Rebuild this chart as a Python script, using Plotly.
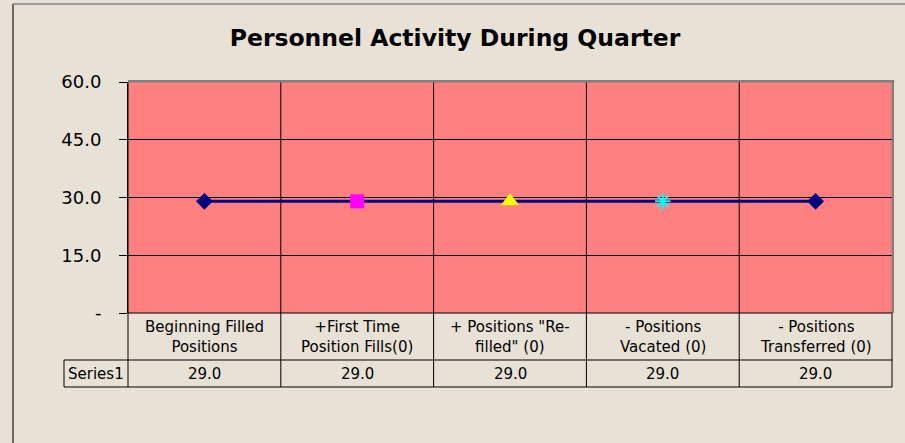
import plotly.graph_objects as go

categories = ["Beginning Filled Positions", "+First Time Position Fills(0)",
              "+ Positions \"Re-filled\" (0)", "- Positions Vacated (0)",
              "- Positions Transferred (0)"]
category_lines = [["Beginning Filled", "Positions"],
                  ["+First Time", "Position Fills(0)"],
                  ["+ Positions \"Re-", "filled\" (0)"],
                  ["- Positions", "Vacated (0)"],
                  ["- Positions", "Transferred (0)"]]
series_name = "Series1"
values = [29.0, 29.0, 29.0, 29.0, 29.0]
y_tickvals = [0, 15, 30, 45, 60]
y_ticktext = ["-", "15.0", "30.0", "45.0", "60.0"]
title_text = "Personnel Activity During Quarter"

marker_symbols = ["diamond", "square", "triangle-up", "asterisk-open", "diamond"]
marker_colors = ["#000080", "#FF00FF", "#FFFF00", "#00FFFF", "#000080"]
marker_sizes = [13, 14, 16, 13, 13]

W, H = 905, 443
L, R, T, B = 128, 13, 82, 130
PW, PH = W - L - R, H - T - B
FONT = "Tahoma, DejaVu Sans, sans-serif"


def px(X):
    return (X - L) / PW


def py(Y):
    return (H - B - Y) / PH


fig = go.Figure()
fig.add_trace(go.Scatter(
    x=list(range(len(categories))), y=values, mode="lines",
    line=dict(color="#000080", width=3), showlegend=False, hoverinfo="skip"))
for i, v in enumerate(values):
    sym = marker_symbols[i]
    fig.add_trace(go.Scatter(
        x=[i], y=[v], mode="markers", showlegend=False,
        marker=dict(symbol=sym, size=marker_sizes[i], color=marker_colors[i],
                    line=dict(color=marker_colors[i], width=2 if "open" in sym else 0))))

shapes = []
blk = dict(color="black", width=1)
n = len(categories)
for i in range(1, n):
    shapes.append(dict(type="line", xref="x", yref="paper", x0=i - 0.5, x1=i - 0.5,
                       y0=1, y1=py(387), line=blk))
shapes.append(dict(type="line", xref="paper", yref="paper", x0=0, x1=0,
                   y0=1, y1=py(387), line=blk))
shapes.append(dict(type="line", xref="paper", yref="paper", x0=1, x1=1,
                   y0=0, y1=py(387), line=blk))
shapes.append(dict(type="line", xref="paper", yref="paper", x0=1.001, x1=1.001,
                   y0=0, y1=1.004, line=dict(color="#808080", width=2.5)))
shapes.append(dict(type="line", xref="paper", yref="paper", x0=0, x1=1.003,
                   y0=1.003, y1=1.003, line=dict(color="#808080", width=2.5)))
shapes.append(dict(type="line", xref="paper", yref="paper", x0=0, x1=1,
                   y0=0, y1=0, line=blk))
for Y in (360, 387):
    shapes.append(dict(type="line", xref="paper", yref="paper", x0=px(64), x1=1,
                       y0=py(Y), y1=py(Y), line=blk))
shapes.append(dict(type="line", xref="paper", yref="paper", x0=px(64), x1=px(64),
                   y0=py(360), y1=py(387), line=blk))
shapes.append(dict(type="line", xref="paper", yref="paper", x0=px(13), x1=px(13),
                   y0=py(4), y1=py(460), line=dict(color="#404040", width=1.5)))
shapes.append(dict(type="line", xref="paper", yref="paper", x0=px(13), x1=px(920),
                   y0=py(4), y1=py(4), line=dict(color="#808080", width=1.5)))

TF = dict(family=FONT, size=15, color="black")
annotations = []
for i, lines in enumerate(category_lines):
    annotations.append(dict(x=i, xref="x", y=py(337), yref="paper",
                            text="<br>".join(lines), showarrow=False, font=TF,
                            xanchor="center", yanchor="middle"))
    annotations.append(dict(x=i, xref="x", y=py(374), yref="paper",
                            text=f"{values[i]:.1f}", showarrow=False, font=TF,
                            xanchor="center", yanchor="middle"))
annotations.append(dict(x=px(96), xref="paper", y=py(374), yref="paper",
                        text=series_name, showarrow=False, font=TF,
                        xanchor="center", yanchor="middle"))

fig.update_layout(
    width=W, height=H,
    margin=dict(l=L, r=R, t=T, b=B, pad=0),
    paper_bgcolor="#e8e1d5", plot_bgcolor="#FF8080",
    title=dict(text=f"<b>{title_text}</b>", x=455 / W, xanchor="center",
               y=1 - 38 / H, yanchor="middle",
               font=dict(family=FONT, size=23.5, color="black")),
    xaxis=dict(type="linear", range=[-0.5, n - 0.5], showgrid=False,
               showticklabels=False, zeroline=False, showline=False, ticks=""),
    yaxis=dict(range=[0, 60], tickvals=y_tickvals, ticktext=y_ticktext,
               showgrid=True, gridcolor="black", gridwidth=1, zeroline=False,
               showline=True, linecolor="black", linewidth=1,
               ticks="outside", ticklen=8, tickcolor="black",
               ticklabelstandoff=14,
               tickfont=dict(family=FONT, size=18, color="black")),
    shapes=shapes, annotations=annotations, showlegend=False,
)
fig.write_html("out.html", config={"displayModeBar": False},
               post_script="document.body.style.margin='0';")
